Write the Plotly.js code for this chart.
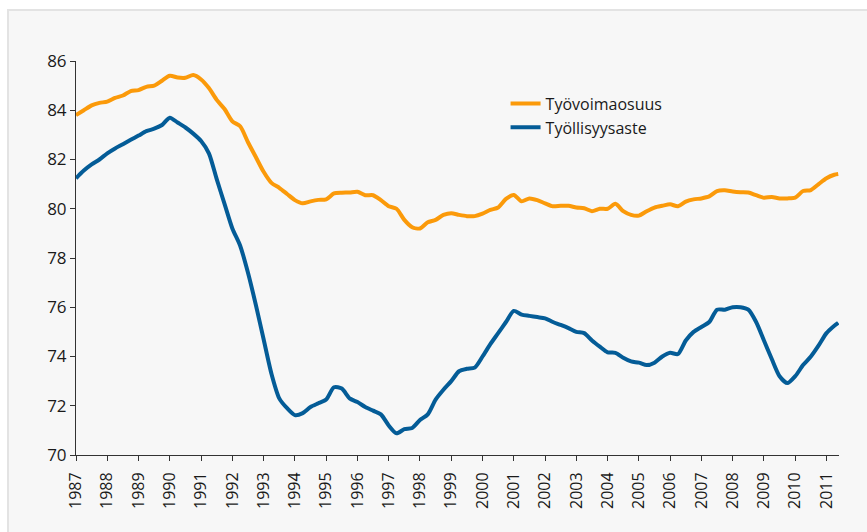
<!DOCTYPE html>
<html>
<head>
<meta charset="utf-8">
<script src="https://cdn.plot.ly/plotly-3.0.1.min.js"></script>
<style>
  html, body { margin: 0; padding: 0; background: #ffffff; }
  #chart { width: 867px; height: 532px; }
</style>
</head>
<body>
<div id="chart"></div>
<script>
// quarterly values, one row per year (Q1..Q4), last year partial
const firstYear = 1987;
const tyovoimaosuus = [
    83.8, 84.0, 84.2, 84.3,
    84.35, 84.5, 84.6, 84.78,
    84.82, 84.95, 85.0, 85.2,
    85.4, 85.33, 85.32, 85.43,
    85.25, 84.9, 84.42, 84.05,
    83.55, 83.35, 82.7, 82.1,
    81.5, 81.05, 80.85, 80.6,
    80.35, 80.22, 80.3, 80.36,
    80.38, 80.62, 80.65, 80.66,
    80.69, 80.55, 80.55, 80.35,
    80.1, 80.0, 79.55, 79.25,
    79.2, 79.45, 79.55, 79.75,
    79.82, 79.75, 79.7, 79.7,
    79.8, 79.95, 80.05, 80.4,
    80.56, 80.3, 80.42, 80.35,
    80.22, 80.1, 80.12, 80.12,
    80.05, 80.02, 79.9, 80.0,
    80.0, 80.2, 79.9, 79.75,
    79.72, 79.9, 80.05, 80.12,
    80.18, 80.1, 80.29, 80.38,
    80.42, 80.5, 80.72, 80.75,
    80.7, 80.67, 80.66, 80.55,
    80.45, 80.48, 80.42, 80.42,
    80.45, 80.72, 80.76, 81.0,
    81.24, 81.38
];
const tyollisyysaste = [
    81.24, 81.55, 81.8, 82.0,
    82.25, 82.45, 82.62, 82.8,
    82.97, 83.15, 83.25, 83.4,
    83.7, 83.5, 83.3, 83.05,
    82.75, 82.25, 81.2, 80.2,
    79.2, 78.5, 77.4, 76.1,
    74.7, 73.3, 72.3, 71.9,
    71.62, 71.7, 71.95, 72.1,
    72.25, 72.75, 72.7, 72.3,
    72.15, 71.95, 71.8, 71.65,
    71.2, 70.88, 71.05, 71.1,
    71.42, 71.65, 72.25, 72.65,
    73.0, 73.4, 73.5, 73.55,
    74.0, 74.5, 74.95, 75.4,
    75.85, 75.7, 75.65, 75.6,
    75.55, 75.4, 75.28, 75.15,
    75.0, 74.95, 74.65, 74.4,
    74.17, 74.15, 73.95, 73.8,
    73.75, 73.65, 73.75, 74.0,
    74.15, 74.1, 74.65, 75.0,
    75.2, 75.4, 75.9, 75.9,
    76.0, 76.0, 75.9, 75.4,
    74.65, 73.9, 73.2, 72.92,
    73.2, 73.65, 74.0, 74.45,
    74.95, 75.25
];
// last observation (spring 2011)
const lastPoint = { t: 2011.375, tyovoima: 81.41, tyollisyys: 75.37 };
const yearTicks = [];
for (let y = 1987; y <= 2011; y++) yearTicks.push(y);

const quarters = tyovoimaosuus.map((v, i) => firstYear + i / 4);
const xs = quarters.concat([lastPoint.t]);

const font = '"Open Sans", "DejaVu Sans", sans-serif';

const traces = [
    {
        x: xs,
        y: tyovoimaosuus.concat([lastPoint.tyovoima]),
        mode: 'lines',
        type: 'scatter',
        name: 'Työvoimaosuus',
        line: { color: '#fb9a0a', width: 4, shape: 'spline', smoothing: 0.7 }
    },
    {
        x: xs,
        y: tyollisyysaste.concat([lastPoint.tyollisyys]),
        mode: 'lines',
        type: 'scatter',
        name: 'Työllisyysaste',
        line: { color: '#045c97', width: 4, shape: 'spline', smoothing: 0.7 }
    }
];

const layout = {
    width: 867,
    height: 532,
    margin: { l: 76, r: 28, t: 61, b: 77 },
    paper_bgcolor: '#ffffff',
    plot_bgcolor: 'rgba(0,0,0,0)',
    font: { family: font, size: 16, color: '#1a1a1a' },
    showlegend: true,
    legend: {
        x: 0.563, y: 0.935, xanchor: 'left', yanchor: 'top',
        bgcolor: 'rgba(0,0,0,0)',
        font: { family: font, size: 16, color: '#1a1a1a' }
    },
    xaxis: {
        range: [1987, 2011.4],
        tickvals: yearTicks,
        ticktext: yearTicks.map(String),
        tickangle: -90,
        ticks: 'outside', ticklen: 5, tickcolor: '#333',
        ticklabelstandoff: 5,
        showline: true, linecolor: '#333', linewidth: 1,
        showgrid: false, zeroline: false,
        tickfont: { family: font, size: 16, color: '#1a1a1a' }
    },
    yaxis: {
        range: [70, 86],
        dtick: 2,
        ticks: 'outside', ticklen: 5, tickcolor: '#333',
        showline: true, linecolor: '#333', linewidth: 1,
        showgrid: false, zeroline: false,
        tickfont: { family: font, size: 17, color: '#1a1a1a' }
    },
    shapes: [
        {
            type: 'rect', xref: 'paper', yref: 'paper', layer: 'below',
            x0: -0.0891, x1: 1.05, y0: -0.21, y1: 1.1294,
            fillcolor: '#f7f7f7',
            line: { color: '#e3e3e3', width: 2 }
        }
    ]
};

Plotly.newPlot('chart', traces, layout, { displayModeBar: false, staticPlot: true });
</script>
</body>
</html>
